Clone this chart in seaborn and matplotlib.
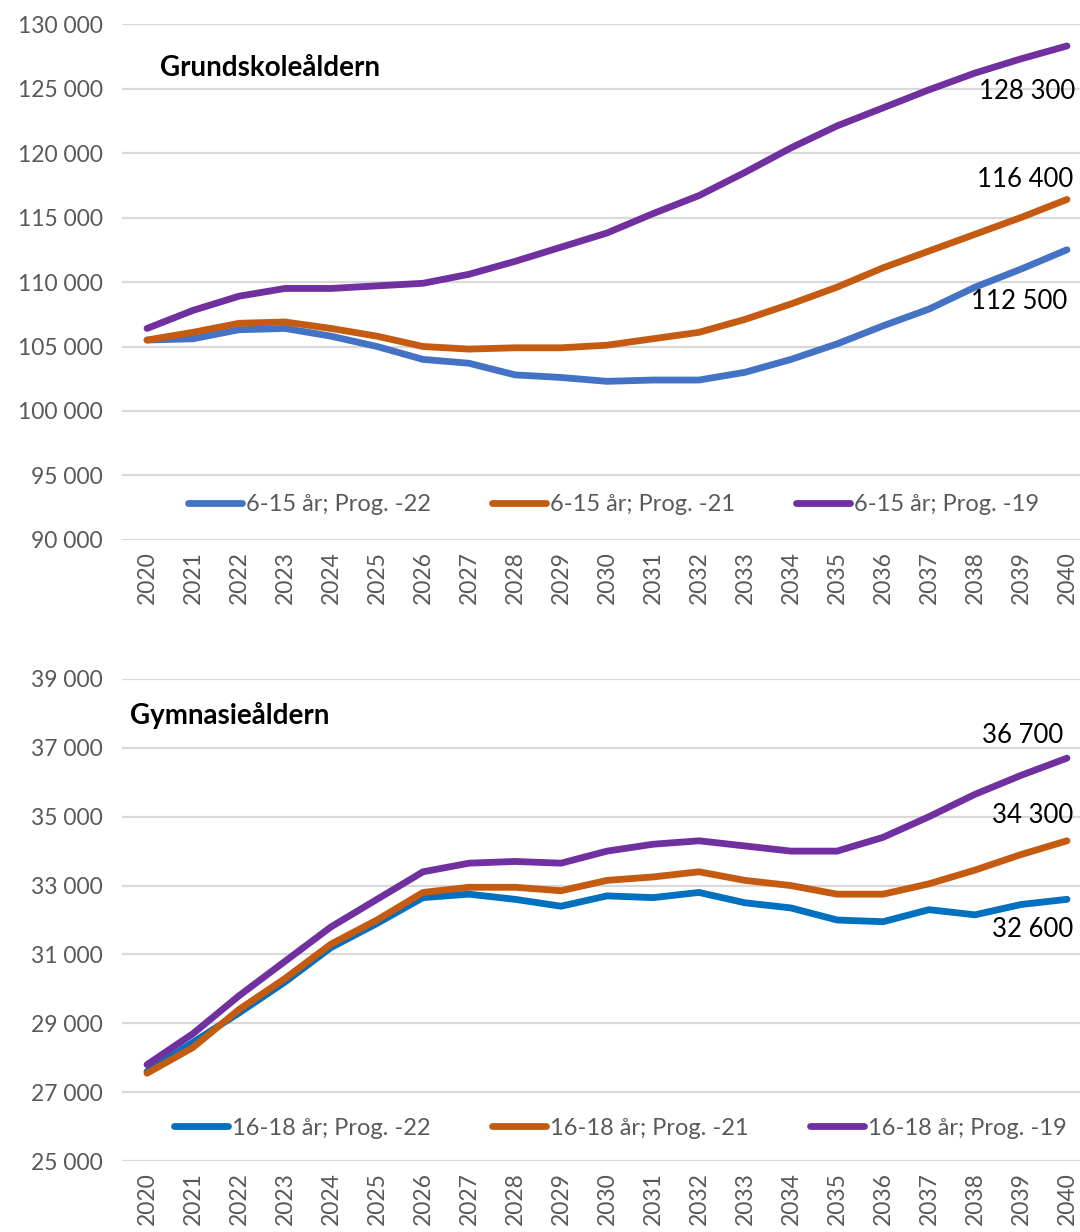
import numpy as np
import pandas as pd
import matplotlib
matplotlib.use("Agg")
import matplotlib.pyplot as plt
from matplotlib.ticker import FuncFormatter
import seaborn as sns

years = list(range(2020, 2041))

# Grundskoleåldern (6-15 år)
grund_22 = [105500, 105600, 106300, 106400, 105800, 105000, 104000, 103700, 102800, 102600, 102300,
            102400, 102400, 103000, 104000, 105200, 106600, 107900, 109600, 111000, 112500]
grund_21 = [105500, 106100, 106800, 106900, 106400, 105800, 105000, 104800, 104900, 104900, 105100,
            105600, 106100, 107100, 108300, 109600, 111100, 112400, 113700, 115000, 116400]
grund_19 = [106400, 107800, 108900, 109500, 109500, 109700, 109900, 110600, 111600, 112700, 113800,
            115300, 116700, 118500, 120400, 122100, 123500, 124900, 126200, 127300, 128300]

# Gymnasieåldern (16-18 år)
gym_22 = [27600, 28450, 29300, 30200, 31200, 31900, 32650, 32750, 32600, 32400, 32700,
          32650, 32800, 32500, 32350, 32000, 31950, 32300, 32150, 32450, 32600]
gym_21 = [27550, 28300, 29400, 30300, 31300, 32000, 32800, 32950, 32950, 32850, 33150,
          33250, 33400, 33150, 33000, 32750, 32750, 33050, 33450, 33900, 34300]
gym_19 = [27800, 28700, 29800, 30800, 31800, 32600, 33400, 33650, 33700, 33650, 34000,
          34200, 34300, 34150, 34000, 34000, 34400, 35000, 35650, 36200, 36700]

grund_labels = ["6-15 år; Prog. -22", "6-15 år; Prog. -21", "6-15 år; Prog. -19"]
gym_labels = ["16-18 år; Prog. -22", "16-18 år; Prog. -21", "16-18 år; Prog. -19"]
grund_colors = ["#4472C4", "#C55A11", "#7030A0"]
gym_colors = ["#0070C0", "#C55A11", "#7030A0"]

sns.set_theme(style="white")
plt.rcParams['font.family'] = ['Lato', 'DejaVu Sans']

TEXT_GRAY = "#595959"


def to_long(series, labels):
    frames = []
    for vals, lab in zip(series, labels):
        frames.append(pd.DataFrame({"year": years, "value": vals, "serie": lab}))
    return pd.concat(frames, ignore_index=True)


def thousands(v, pos):
    return f"{int(v):,}".replace(",", " ")


def draw_panel(ax, df, labels, colors, ylim, step, title, title_pos, notes, leg_x):
    sns.lineplot(data=df, x="year", y="value", hue="serie", hue_order=labels,
                 palette=colors, linewidth=4.9, ax=ax, legend=True,
                 solid_capstyle="round")
    ax.set_xlim(2019.457, 2040.283)
    ax.set_ylim(*ylim)
    ax.set_yticks(np.arange(ylim[0], ylim[1] + 1, step))
    ax.yaxis.set_major_formatter(FuncFormatter(thousands))
    ax.set_xticks(years)
    ax.set_xticklabels([str(y) for y in years], rotation=90)
    ax.tick_params(axis="both", labelsize=16.5, labelcolor=TEXT_GRAY, length=0)
    ax.tick_params(axis="y", pad=14)
    ax.tick_params(axis="x", pad=8)
    ax.grid(axis="y", color="#D9D9D9", linewidth=1.6)
    ax.set_axisbelow(True)
    for s in ax.spines.values():
        s.set_visible(False)
    ax.set_xlabel("")
    ax.set_ylabel("")

    ax.text(title_pos[0], title_pos[1], title, transform=ax.transAxes, fontsize=20,
            fontweight="bold", color="black", va="center", ha="left")

    for (val, txt, dx, dy) in notes:
        ax.annotate(txt, xy=(2040, val), xytext=(dx, dy), textcoords="offset pixels",
                    ha="right", va="center", fontsize=18.5, color="black")

    handles, labs = ax.get_legend_handles_labels()
    ax.legend(handles, labs, loc="center", bbox_to_anchor=(leg_x, 0.068), ncol=3,
              frameon=False, fontsize=17, labelcolor=TEXT_GRAY, handlelength=2.3,
              handletextpad=0.15, columnspacing=2.6)


fig = plt.figure(figsize=(10.8, 12.32), dpi=100)
ax1 = fig.add_axes([0.113, 0.5617, 0.887, 0.4188])
ax2 = fig.add_axes([0.113, 0.0576, 0.887, 0.3913])

draw_panel(ax1, to_long([grund_22, grund_21, grund_19], grund_labels), grund_labels,
           grund_colors, (90000, 130000), 5000, "Grundskoleåldern", (0.04, 0.915),
           [(grund_19[-1], "128 300", 8, -46),
            (grund_21[-1], "116 400", 6, 20),
            (grund_22[-1], "112 500", 0, -52)], 0.513)
draw_panel(ax2, to_long([gym_22, gym_21, gym_19], gym_labels), gym_labels,
           gym_colors, (25000, 39000), 2000, "Gymnasieåldern", (0.008, 0.925),
           [(gym_19[-1], "36 700", -4, 23),
            (gym_21[-1], "34 300", 6, 25),
            (gym_22[-1], "32 600", 6, -30)], 0.52)

fig.savefig("out.png", dpi=100, facecolor="white")
